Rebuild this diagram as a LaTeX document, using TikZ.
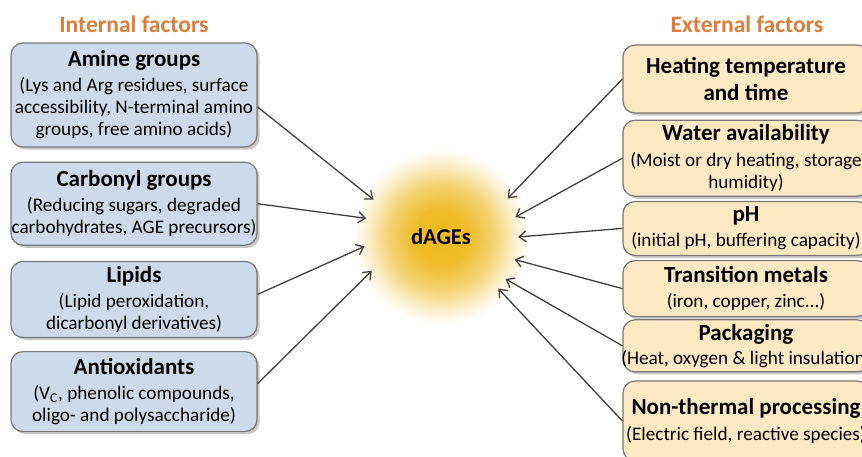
\documentclass[tikz,border=0pt]{standalone}
\usepackage{fontspec}
\setmainfont{Carlito}
\usetikzlibrary{positioning,arrows.meta,shadows}
\definecolor{hdrorange}{RGB}{222,124,58}
\definecolor{inblue}{RGB}{204,218,235}
\definecolor{exgold}{RGB}{253,234,194}
\definecolor{boxgray}{RGB}{120,120,120}
\definecolor{arrgray}{RGB}{64,64,64}
\definecolor{glowc}{RGB}{238,184,30}
\pgfdeclareradialshading{dglow}{\pgfpoint{0bp}{0bp}}{%
  color(0bp)=(glowc); color(8bp)=(glowc!94!white);
  color(15bp)=(glowc!62!white); color(21bp)=(glowc!22!white);
  color(25bp)=(white); color(50bp)=(white)}
\newcommand{\ttl}[1]{{\fontsize{11.5}{13.5}\selectfont\bfseries #1}}

\begin{document}
\begin{tikzpicture}[
    x=0.5pt, y=-0.5pt,
    font=\fontsize{9.6}{11}\selectfont,
    factor/.style={rectangle, draw=boxgray, line width=0.6pt, rounded corners=6pt,
                   minimum width=123pt, inner xsep=0pt, inner ysep=1pt, align=center,
                   drop shadow={shadow xshift=1.3pt, shadow yshift=-1.3pt,
                                fill=black!40, opacity=0.55}},
    internal/.style={factor, fill=inblue},
    external/.style={factor, fill=exgold},
    heading/.style={font=\fontsize{11.8}{14}\selectfont\bfseries, text=hdrorange},
    arrow/.style={-{Straight Barb[length=3.5pt, width=5.5pt]}, line width=0.65pt,
                  draw=arrgray}
  ]
  \useasboundingbox (0,0) rectangle (862,456);

  % ----- Headings -----
  \node[heading] (inthdr) at (134,24) {Internal factors};
  \node[heading] (exthdr) at (747,24) {External factors};

  % ----- Left column: internal factors -----
  \node[internal, minimum height=52pt] (amine) at (134,95)
    {\ttl{Amine groups}\\[1.5pt](Lys and Arg residues, surface\\
     accessibility, N-terminal amino\\groups, free amino acids)};
  \node[internal, minimum height=41.5pt, below=7pt of amine] (carbonyl)
    {\ttl{Carbonyl groups}\\[1.5pt](Reducing sugars, degraded\\
     carbohydrates, AGE precursors)};
  \node[internal, minimum height=38pt, below=7.5pt of carbonyl] (lipids)
    {\ttl{Lipids}\\[1.5pt](Lipid peroxidation,\\dicarbonyl derivatives)};
  \node[internal, minimum height=40pt, below=6.5pt of lipids] (antiox)
    {\ttl{Antioxidants}\\[1.5pt](V\textsubscript{C}, phenolic compounds,\\
     oligo- and polysaccharide)};

  % ----- Centre -----
  \node[circle, minimum size=88pt, outer sep=-5.5pt, shading=dglow,
        font=\fontsize{11.3}{13}\selectfont\bfseries] (dages) at (441,237) {dAGEs};

  % ----- Right column: external factors -----
  \node[external, minimum height=34pt] (heating) at (746,79)
    {\ttl{Heating temperature}\\[2.5pt]\ttl{and time}};
  \node[external, minimum height=38pt, below=3pt of heating] (water)
    {\ttl{Water availability}\\[2pt](Moist or dry heating, storage\\humidity)};
  \node[external, minimum height=27pt, below=2pt of water] (ph)
    {\ttl{pH}\\[1.5pt](initial pH, buffering capacity)};
  \node[external, minimum height=28pt, below=2pt of ph] (metals)
    {\ttl{Transition metals}\\[1.5pt](iron, copper, zinc...)};
  \node[external, minimum height=26pt, below=1pt of metals] (packaging)
    {\ttl{Packaging}\\[1pt]\makebox[118pt]{(Heat, oxygen \& light insulation)}};
  \node[external, minimum height=40pt, below=4pt of packaging] (nonthermal)
    {\ttl{Non-thermal processing}\\[2pt](Electric field, reactive species)};

  % ----- Arrows into dAGEs -----
  \draw[arrow] ([yshift=-6pt]amine.east) -- (dages.151);
  \draw[arrow] (carbonyl.east) -- (dages.166);
  \draw[arrow] ([yshift=2.5pt]lipids.east) -- (dages.187);
  \draw[arrow] ([yshift=4pt]antiox.east) -- (dages.206);
  \draw[arrow] (heating.west) -- (dages.30);
  \draw[arrow] (water.west) -- (dages.15);
  \draw[arrow] (ph.west) -- (dages.0);
  \draw[arrow] (metals.west) -- (dages.-17);
  \draw[arrow] (packaging.west) -- (dages.-33);
  \draw[arrow] (nonthermal.west) -- (dages.-42);
\end{tikzpicture}
\end{document}
